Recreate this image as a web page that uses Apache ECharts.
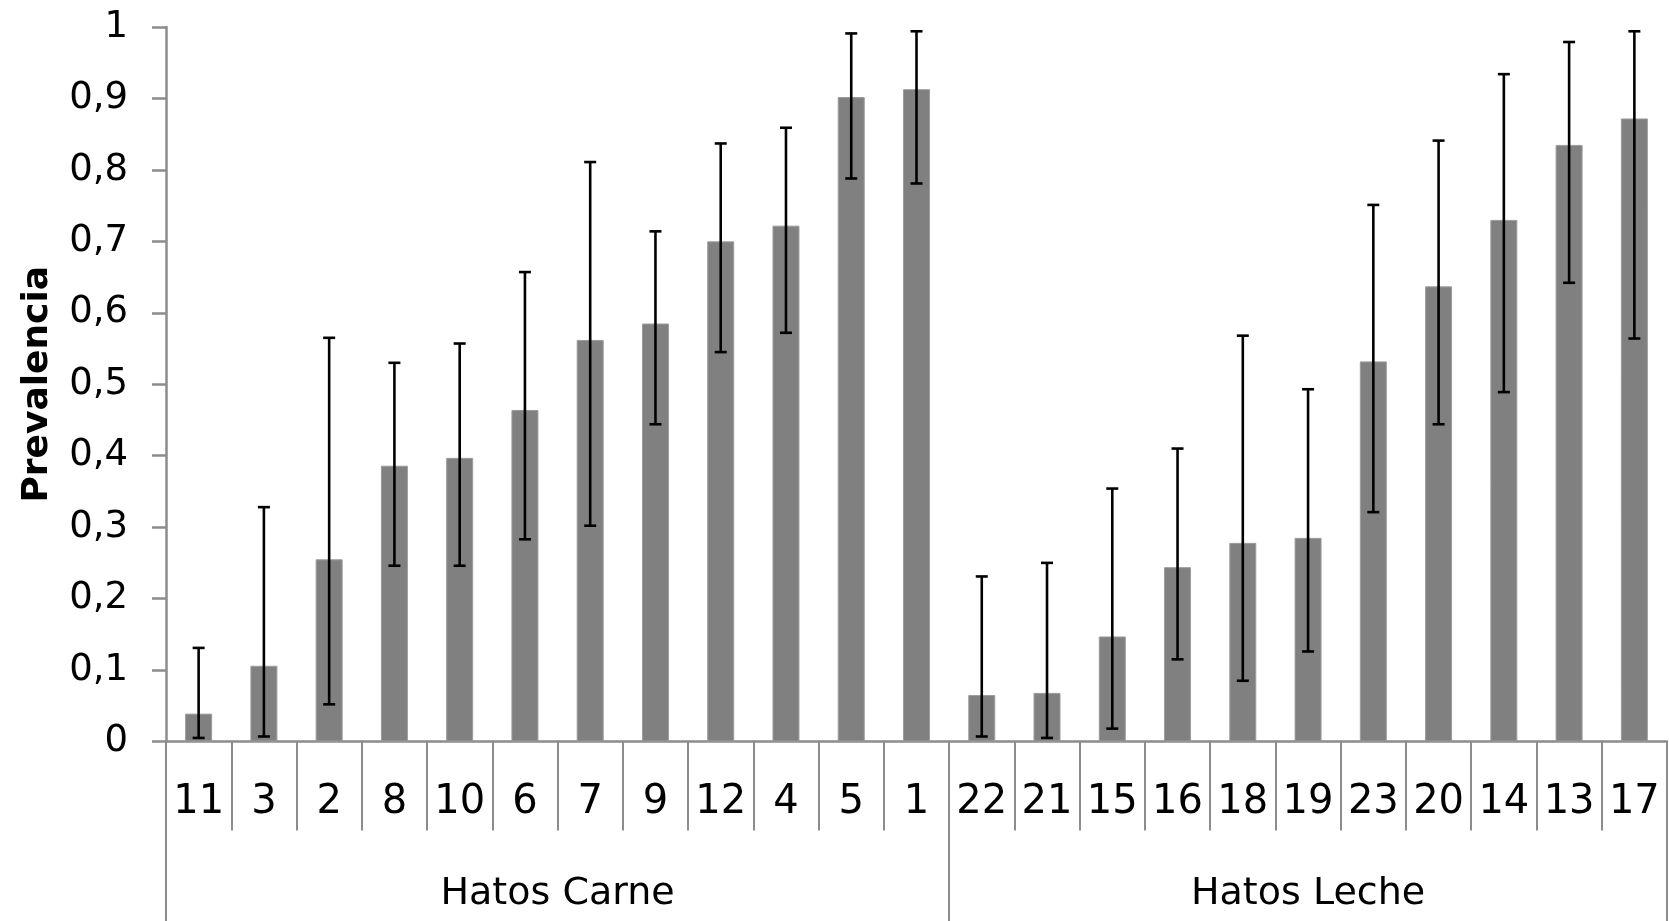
<!DOCTYPE html>
<html>
<head>
<meta charset="utf-8">
<script src="https://cdn.jsdelivr.net/npm/echarts@6/dist/echarts.min.js"></script>
<style>
  html, body { margin: 0; padding: 0; background: #ffffff; }
  #chart { width: 1669px; height: 921px; }
</style>
</head>
<body>
<div id="chart"></div>
<script>
// Herd identifiers, in plotted order (beef herds first, then dairy herds)
const hatos = ['11', '3', '2', '8', '10', '6', '7', '9', '12', '4', '5', '1',
               '22', '21', '15', '16', '18', '19', '23', '20', '14', '13', '17'];

// Group labels and how many herds fall in each group
const grupos = ['Hatos Carne', 'Hatos Leche'];
const tamanoGrupo = [12, 11];

// Estimated prevalence per herd
const prevalencia = [0.039, 0.106, 0.255, 0.386, 0.397, 0.464, 0.562, 0.585, 0.700, 0.722, 0.902, 0.913,
                     0.065, 0.068, 0.147, 0.244, 0.278, 0.285, 0.532, 0.637, 0.730, 0.835, 0.872];

// Confidence interval limits per herd
const limiteInferior = [0.005, 0.007, 0.052, 0.246, 0.246, 0.283, 0.302, 0.444, 0.545, 0.572, 0.788, 0.781,
                        0.007, 0.005, 0.018, 0.115, 0.085, 0.126, 0.321, 0.444, 0.489, 0.642, 0.564];
const limiteSuperior = [0.131, 0.328, 0.565, 0.530, 0.557, 0.657, 0.811, 0.714, 0.837, 0.859, 0.991, 0.994,
                        0.231, 0.250, 0.354, 0.410, 0.568, 0.493, 0.751, 0.841, 0.934, 0.979, 0.994];

const FONT = 'DejaVu Sans';
const AXIS_GRAY = '#8c8c8c';

// Boundaries and centres of each group on a 0..N scale
const total = hatos.length;
const limitesGrupo = [0];
const centrosGrupo = [];
tamanoGrupo.forEach(n => {
  const ini = limitesGrupo[limitesGrupo.length - 1];
  centrosGrupo.push(ini + n / 2);
  limitesGrupo.push(ini + n);
});

const chart = echarts.init(document.getElementById('chart'), null, { renderer: 'canvas' });

const option = {
  backgroundColor: '#ffffff',
  animation: false,
  grid: { left: 166, right: 2, top: 27, bottom: 179.5, containLabel: false },
  xAxis: [
    {
      type: 'category',
      data: hatos,
      position: 'bottom',
      boundaryGap: true,
      axisLine: { show: true, lineStyle: { color: AXIS_GRAY, width: 2.5 } },
      axisTick: { show: true, interval: 0, length: 89, lineStyle: { color: AXIS_GRAY, width: 2 } },
      axisLabel: {
        interval: 0, margin: 41, color: '#000000',
        fontFamily: FONT, fontSize: 40, lineHeight: 40
      },
      splitLine: { show: false }
    },
    {
      // Second level of the category axis: herd type groups
      type: 'value',
      min: 0,
      max: total,
      position: 'bottom',
      axisLine: { show: false },
      axisTick: {
        show: true, length: 180, customValues: limitesGrupo,
        lineStyle: { color: AXIS_GRAY, width: 2 }
      },
      axisLabel: {
        customValues: centrosGrupo,
        margin: 134,
        color: '#000000', fontFamily: FONT, fontSize: 38, lineHeight: 38,
        formatter: v => {
          const idx = centrosGrupo.findIndex(c => Math.abs(c - v) < 1e-6);
          return idx >= 0 ? grupos[idx] : '';
        }
      },
      splitLine: { show: false }
    }
  ],
  yAxis: {
    type: 'value',
    min: 0,
    max: 1,
    interval: 0.1,
    name: 'Prevalencia',
    nameLocation: 'middle',
    nameGap: 110,
    nameTextStyle: { fontFamily: FONT, fontSize: 36, fontWeight: 'bold', color: '#000000' },
    axisLine: { show: true, lineStyle: { color: AXIS_GRAY, width: 2.5 } },
    axisTick: { show: true, length: 14, lineStyle: { color: AXIS_GRAY, width: 2.5 } },
    axisLabel: {
      margin: 38, color: '#000000', fontFamily: FONT, fontSize: 37,
      formatter: v => {
        const r = Math.round(v * 10) / 10;
        if (r === 0) return '0';
        if (r === 1) return '1';
        return r.toFixed(1).replace('.', ',');
      }
    },
    splitLine: { show: false }
  },
  series: [
    {
      type: 'bar',
      xAxisIndex: 0,
      data: prevalencia,
      barWidth: 27,
      itemStyle: { color: '#808080', borderColor: '#9c9c9c', borderWidth: 1 },
      z: 2
    },
    {
      type: 'custom',
      xAxisIndex: 0,
      data: hatos.map((h, i) => [i, limiteInferior[i], limiteSuperior[i]]),
      encode: { x: 0, y: [1, 2] },
      z: 3,
      renderItem: (params, api) => {
        const i = api.value(0);
        const pLo = api.coord([i, api.value(1)]);
        const pHi = api.coord([i, api.value(2)]);
        const half = 6;
        const style = { stroke: '#000000', lineWidth: 2.6 };
        return {
          type: 'group',
          children: [
            { type: 'line', shape: { x1: pHi[0], y1: pHi[1], x2: pLo[0], y2: pLo[1] }, style },
            { type: 'line', shape: { x1: pHi[0] - half, y1: pHi[1], x2: pHi[0] + half, y2: pHi[1] }, style },
            { type: 'line', shape: { x1: pLo[0] - half, y1: pLo[1], x2: pLo[0] + half, y2: pLo[1] }, style }
          ]
        };
      }
    }
  ]
};

chart.setOption(option);
</script>
</body>
</html>
